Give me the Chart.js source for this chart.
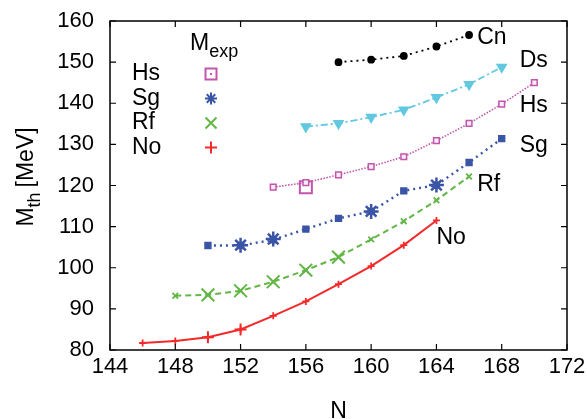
<!DOCTYPE html>
<html>
<head>
<meta charset="utf-8">
<script src="https://cdn.jsdelivr.net/npm/chart.js@4.4.1/dist/chart.umd.min.js"></script>
<style>
  html, body { margin: 0; padding: 0; background: #fff; }
  #wrap { width: 587px; height: 419px; }
</style>
</head>
<body>
<div id="wrap"><canvas id="massChart" width="587" height="419"></canvas></div>
<script>
// ---- data ----
const xTicks = [144, 148, 152, 156, 160, 164, 168, 172];
const yTicks = [80, 90, 100, 110, 120, 130, 140, 150, 160];

const noN = [146, 148, 150, 152, 154, 156, 158, 160, 162, 164];
const noM = [81.7, 82.2, 83.1, 85.0, 88.3, 91.8, 96.0, 100.4, 105.5, 111.5];
const rfN = [148, 150, 152, 154, 156, 158, 160, 162, 164, 166];
const rfM = [93.2, 93.4, 94.4, 96.6, 99.4, 102.6, 106.9, 111.3, 116.4, 122.2];
const sgN = [150, 152, 154, 156, 158, 160, 162, 164, 166, 168];
const sgM = [105.4, 105.4, 106.8, 109.4, 112.0, 113.7, 118.7, 120.1, 125.6, 131.4];
const hsN = [154, 156, 158, 160, 162, 164, 166, 168, 170];
const hsM = [119.6, 120.7, 122.6, 124.6, 127.0, 130.9, 135.1, 139.8, 145.0];
const dsN = [156, 158, 160, 162, 164, 166, 168];
const dsM = [134.3, 135.1, 136.6, 138.4, 141.4, 144.6, 148.8];
const cnN = [158, 160, 162, 164, 166];
const cnM = [150.0, 150.6, 151.5, 153.8, 156.6];

// experimental masses
const noExpN = [150, 152];
const noExpM = [83.1, 85.0];
const rfExpN = [150, 152, 154, 156, 158];
const rfExpM = [93.4, 94.4, 96.6, 99.4, 102.6];
const sgExpN = [152, 154, 160, 164];
const sgExpM = [105.5, 107.0, 113.7, 120.1];
const hsExpN = [156];
const hsExpM = [119.6];

const seriesNames = ['No', 'Rf', 'Sg', 'Hs', 'Ds', 'Cn'];
const legendNames = ['Hs', 'Sg', 'Rf', 'No'];

// ---- styles ----
const FONT = "'Liberation Sans', Arial, Helvetica, sans-serif";
const colors = {
  No: '#f42a2a',
  Rf: '#62b646',
  Sg: '#3a54a6',
  Hs: '#c256ac',
  Ds: '#62c8e0',
  Cn: '#000000'
};

const toPts = (xs, ys) => xs.map((x, i) => ({ x: x, y: ys[i] }));

function lineSet(name, xs, ys, opts) {
  return Object.assign({
    label: name,
    data: toPts(xs, ys),
    showLine: true,
    borderColor: colors[name],
    backgroundColor: colors[name],
    pointBorderColor: colors[name],
    pointBackgroundColor: colors[name],
    borderWidth: 2,
    tension: 0
  }, opts);
}

function expSet(name, xs, ys, opts) {
  return Object.assign({
    label: name + ' exp',
    data: toPts(xs, ys),
    showLine: false,
    pointBorderColor: colors[name],
    pointBackgroundColor: 'rgba(0,0,0,0)',
    pointBorderWidth: 2
  }, opts);
}

const datasets = [
  lineSet('Cn', cnN, cnM, { borderWidth: 1.8, borderDash: [2, 4], pointStyle: 'circle', pointRadius: 3 }),
  lineSet('Ds', dsN, dsM, { borderWidth: 1.8, borderDash: [7, 3, 2, 3], pointStyle: 'triangle', rotation: 180, pointRadius: 5 }),
  lineSet('Hs', hsN, hsM, { borderWidth: 1.6, borderDash: [1.5, 1.5], pointStyle: 'rect', pointRadius: 4, pointBorderWidth: 1.5, pointBackgroundColor: '#fbeef8' }),
  lineSet('Sg', sgN, sgM, { borderWidth: 2.4, borderDash: [2, 4], pointStyle: 'rect', pointRadius: 3.5 }),
  lineSet('Rf', rfN, rfM, { borderWidth: 2, borderDash: [6, 4], pointStyle: 'crossRot', pointRadius: 4, pointBorderWidth: 1.8 }),
  lineSet('No', noN, noM, { borderWidth: 2, pointStyle: 'cross', pointRadius: 3.5, pointBorderWidth: 1.8 }),
  expSet('Hs', hsExpN, hsExpM, { pointStyle: 'rect', pointRadius: 8.5 }),
  expSet('Sg', sgExpN, sgExpM, { pointStyle: 'star', pointRadius: 7.5, pointBorderWidth: 2.5 }),
  expSet('Rf', rfExpN, rfExpM, { pointStyle: 'crossRot', pointRadius: 9 }),
  expSet('No', noExpN, noExpM, { pointStyle: 'cross', pointRadius: 6 })
];

// series name tags beside the curves (data coordinates)
const tagPos = {
  Cn: [166.5, 155.9],
  Ds: [169.1, 150.3],
  Hs: [169.1, 139.3],
  Sg: [169.1, 129.8],
  Rf: [166.5, 120.1],
  No: [164.0, 107.2]
};

// draw text with a subscript part, returns total width
function subText(ctx, x, y, main, sub, tail, size, measureOnly) {
  ctx.font = size + 'px ' + FONT;
  let w = ctx.measureText(main).width;
  if (!measureOnly) ctx.fillText(main, x, y);
  ctx.font = Math.round(size * 0.78) + 'px ' + FONT;
  if (!measureOnly) ctx.fillText(sub, x + w, y + size * 0.3);
  w += ctx.measureText(sub).width;
  if (tail) {
    ctx.font = size + 'px ' + FONT;
    if (!measureOnly) ctx.fillText(tail, x + w + 5, y);
    w += 5 + ctx.measureText(tail).width;
  }
  return w;
}

const framePlugin = {
  id: 'frame',
  afterDatasetsDraw(chart) {
    const { ctx, chartArea: a, scales } = chart;
    ctx.save();
    ctx.strokeStyle = '#000';
    ctx.lineWidth = 1.5;
    ctx.strokeRect(a.left, a.top, a.right - a.left, a.bottom - a.top);
    ctx.lineWidth = 1.2;
    ctx.beginPath();
    const tl = 6;
    xTicks.forEach(v => {
      const px = scales.x.getPixelForValue(v);
      ctx.moveTo(px, a.bottom); ctx.lineTo(px, a.bottom - tl);
      ctx.moveTo(px, a.top); ctx.lineTo(px, a.top + tl);
    });
    yTicks.forEach(v => {
      const py = scales.y.getPixelForValue(v);
      ctx.moveTo(a.left, py); ctx.lineTo(a.left + tl, py);
      ctx.moveTo(a.right, py); ctx.lineTo(a.right - tl, py);
    });
    ctx.stroke();

    // series tags
    ctx.fillStyle = '#000';
    ctx.font = '23px ' + FONT;
    ctx.textBaseline = 'middle';
    ctx.textAlign = 'left';
    seriesNames.forEach(n => {
      const p = tagPos[n];
      ctx.fillText(n, scales.x.getPixelForValue(p[0]), scales.y.getPixelForValue(p[1]));
    });

    // legend of experimental markers
    ctx.textBaseline = 'alphabetic';
    subText(ctx, 190, 50, 'M', 'exp', null, 23);
    ctx.font = '23px ' + FONT;
    legendNames.forEach((n, i) => {
      const y = 74 + i * 24.5;
      ctx.fillStyle = '#000';
      ctx.textBaseline = 'middle';
      ctx.fillText(n, 132, y);
      const mx = 211;
      ctx.strokeStyle = colors[n];
      ctx.fillStyle = colors[n];
      ctx.lineWidth = 2;
      ctx.beginPath();
      if (n === 'Hs') {
        ctx.strokeRect(mx - 5.5, y - 5.5, 11, 11);
        ctx.fillRect(mx - 1, y - 1, 2, 2);
      } else if (n === 'Sg') {
        for (let k = 0; k < 4; k++) {
          const ang = k * Math.PI / 4;
          ctx.moveTo(mx - 6 * Math.cos(ang), y - 6 * Math.sin(ang));
          ctx.lineTo(mx + 6 * Math.cos(ang), y + 6 * Math.sin(ang));
        }
      } else if (n === 'Rf') {
        ctx.moveTo(mx - 5.5, y - 5.5); ctx.lineTo(mx + 5.5, y + 5.5);
        ctx.moveTo(mx - 5.5, y + 5.5); ctx.lineTo(mx + 5.5, y - 5.5);
      } else {
        ctx.moveTo(mx - 6, y); ctx.lineTo(mx + 6, y);
        ctx.moveTo(mx, y - 6); ctx.lineTo(mx, y + 6);
      }
      ctx.stroke();
    });

    // axis titles
    ctx.fillStyle = '#000';
    ctx.textBaseline = 'alphabetic';
    ctx.textAlign = 'center';
    ctx.font = '23px ' + FONT;
    ctx.fillText('N', (a.left + a.right) / 2, 418);
    ctx.save();
    ctx.translate(33, 177);
    ctx.rotate(-Math.PI / 2);
    ctx.textAlign = 'left';
    const tw = subText(ctx, 0, 0, 'M', 'th', '[MeV]', 23, true);
    subText(ctx, -tw / 2, 0, 'M', 'th', '[MeV]', 23);
    ctx.restore();
    ctx.restore();
  }
};

const tickFont = { family: FONT, size: 22 };

new Chart(document.getElementById('massChart').getContext('2d'), {
  type: 'scatter',
  data: { datasets: datasets },
  options: {
    responsive: false,
    animation: false,
    layout: { padding: { left: 0, right: 20, top: 21, bottom: 0 } },
    plugins: {
      legend: { display: false },
      tooltip: { enabled: false }
    },
    scales: {
      x: {
        type: 'linear',
        min: 144,
        max: 172,
        afterBuildTicks: s => { s.ticks = xTicks.map(v => ({ value: v })); },
        afterFit: s => { s.height = 69; s.paddingLeft = 0; s.paddingRight = 0; },
        grid: { display: false, drawTicks: false },
        border: { display: false },
        ticks: { color: '#000', font: tickFont, padding: 4, maxRotation: 0 }
      },
      y: {
        type: 'linear',
        min: 80,
        max: 160,
        afterBuildTicks: s => { s.ticks = yTicks.map(v => ({ value: v })); },
        afterFit: s => { s.width = 110; s.paddingTop = 0; s.paddingBottom = 0; },
        grid: { display: false, drawTicks: false },
        border: { display: false },
        ticks: { color: '#000', font: tickFont, padding: 16 }
      }
    }
  },
  plugins: [framePlugin]
});
</script>
</body>
</html>
